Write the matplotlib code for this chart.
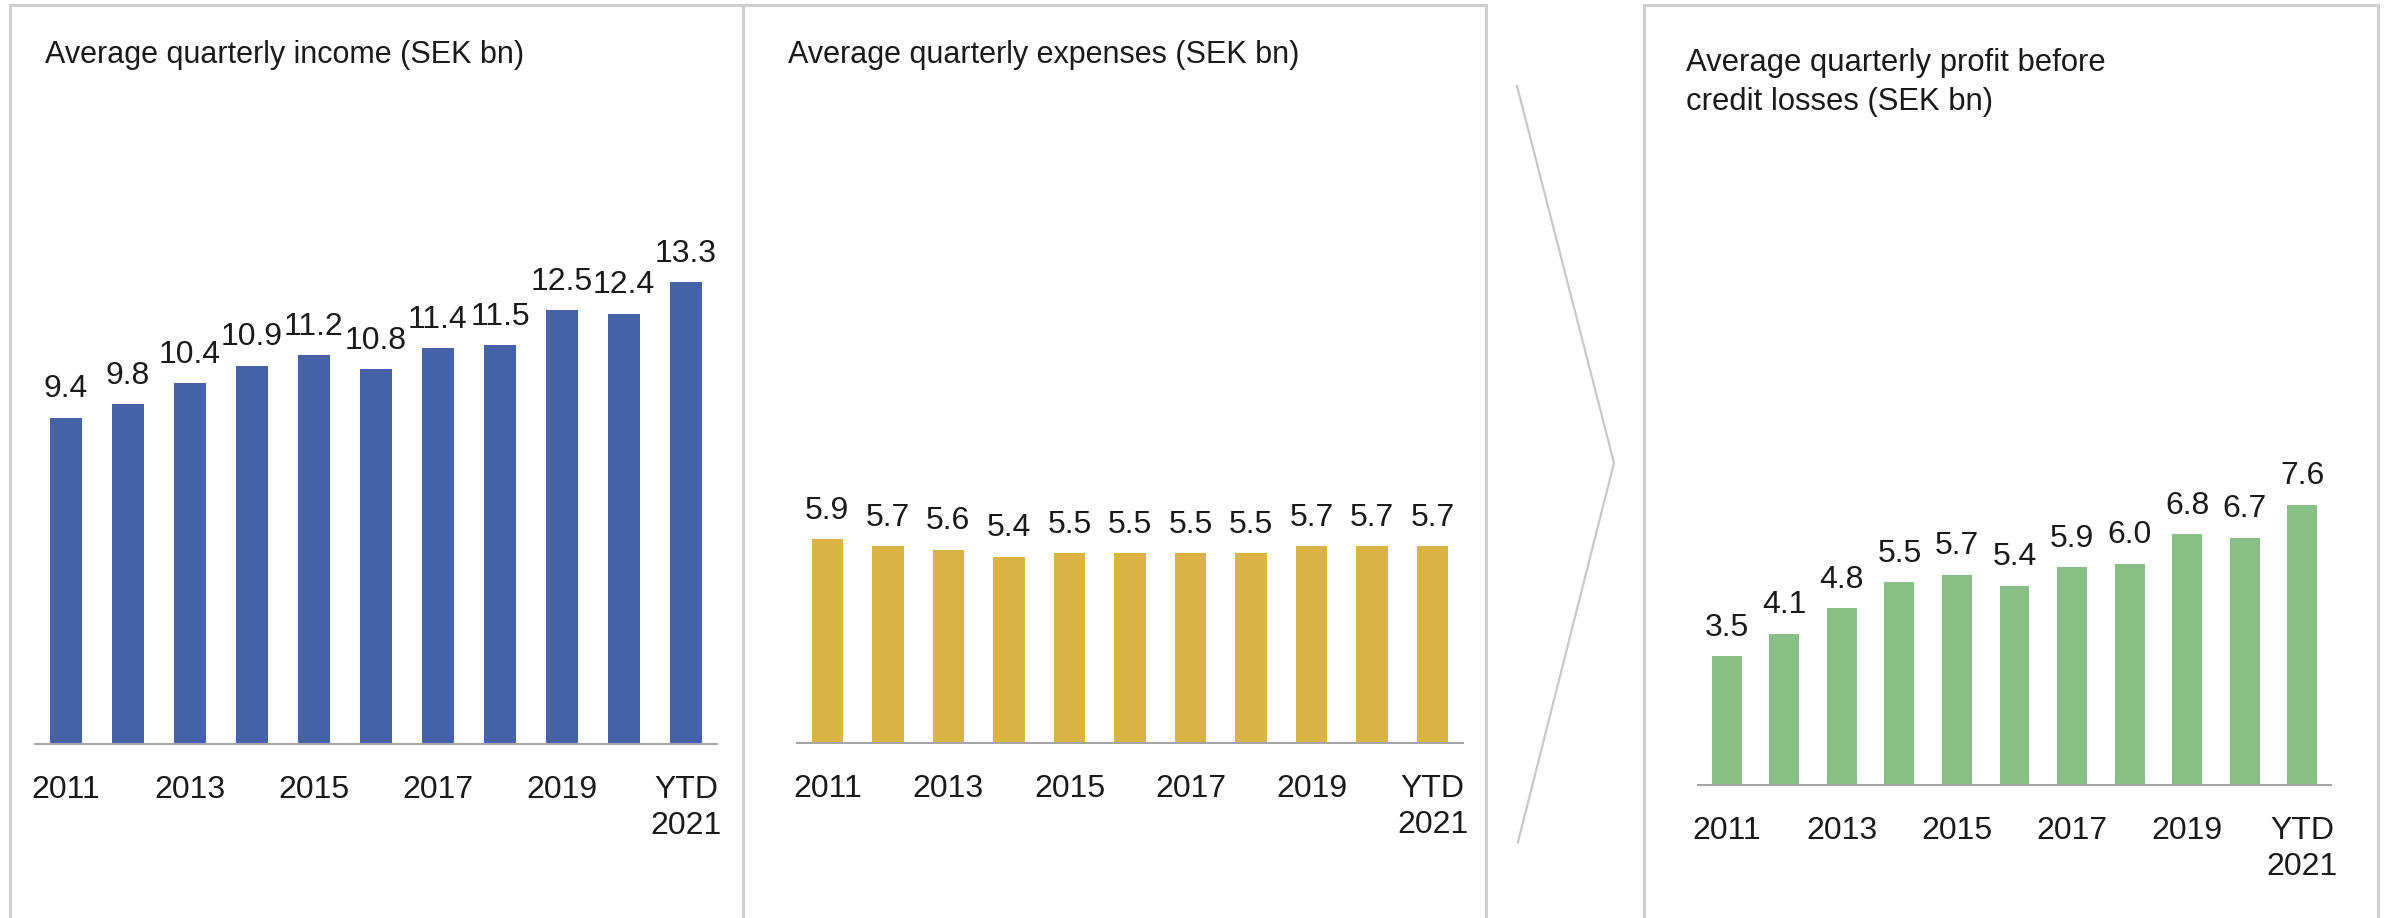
import matplotlib
matplotlib.use("Agg")
from matplotlib import pyplot as plt
from matplotlib import font_manager
from matplotlib.lines import Line2D

# data
years = ["2011", "2012", "2013", "2014", "2015", "2016", "2017", "2018", "2019", "2020", "YTD\n2021"]
income = [9.4, 9.8, 10.4, 10.9, 11.2, 10.8, 11.4, 11.5, 12.5, 12.4, 13.3]
expenses = [5.9, 5.7, 5.6, 5.4, 5.5, 5.5, 5.5, 5.5, 5.7, 5.7, 5.7]
profit = [3.5, 4.1, 4.8, 5.5, 5.7, 5.4, 5.9, 6.0, 6.8, 6.7, 7.6]

titles = ["Average quarterly income (SEK bn)",
          "Average quarterly expenses (SEK bn)",
          "Average quarterly profit before\ncredit losses (SEK bn)"]
colors = ["#4562A8", "#DBB244", "#88C083"]

W, H = 2392, 918
TEXT = "#1A1A1A"
BORDER = "#CFCFCF"

names = {f.name for f in font_manager.fontManager.ttflist}
if "Liberation Sans Narrow" in names:
    title_font, title_size = "Liberation Sans Narrow", 27
else:
    title_font, title_size = "Liberation Sans", 22
plt.rcParams["font.family"] = ["Liberation Sans", "DejaVu Sans"]


def fx(x):
    return x / W


def fy(y):
    return 1 - y / H


def draw_panel(fig, vals, color, left, right, base, px_per_unit, top=150):
    """One bar panel, placed by pixel coords of the reference"""
    ax = fig.add_axes([fx(left), fy(base), (right - left) / W, (base - top) / H])
    x = range(len(vals))
    bars = ax.bar(x, vals, width=0.52, color=color)
    ax.bar_label(bars, labels=[f"{v:.1f}" for v in vals], padding=9.6, fontsize=23, color=TEXT)
    ax.set_xlim(-0.5, len(vals) - 0.5)
    ax.set_ylim(0, (base - top) / px_per_unit)
    ax.set_xticks(range(0, len(vals), 2))
    ax.set_xticklabels([years[i] for i in range(0, len(vals), 2)])
    ax.tick_params(axis="x", length=0, pad=22, labelsize=23, labelcolor=TEXT)
    for t in ax.get_xticklabels():
        t.set_linespacing(1.3)
    ax.set_yticks([])
    for s in ["left", "right", "top"]:
        ax.spines[s].set_visible(False)
    ax.spines["bottom"].set_color("#A6A6A6")
    ax.spines["bottom"].set_linewidth(1.5)
    ax.patch.set_alpha(0)
    return ax


def main():
    fig = plt.figure(figsize=(W / 100, H / 100), dpi=100)

    # panel frames (open at the bottom)
    frame_lines = [
        ([10, 10], [5, H]), ([10, 1486], [5, 5]), ([743, 743], [5, H]), ([1486, 1486], [5, H]),
        ([1644, 1644], [5, H]), ([1644, 2378], [5, 5]), ([2378, 2378], [5, H]),
    ]
    for xs, ys in frame_lines:
        fig.add_artist(Line2D([fx(v) for v in xs], [fy(v) for v in ys], color=BORDER, lw=2.2))

    # chevron between expenses and profit
    fig.add_artist(Line2D([fx(1517), fx(1614), fx(1518)], [fy(86), fy(463), fy(842)],
                          color="#C8C8C8", lw=1.6))

    draw_panel(fig, income, colors[0], 35, 717, 744, 34.7)
    draw_panel(fig, expenses, colors[1], 797, 1463, 743, 34.5)
    draw_panel(fig, profit, colors[2], 1698, 2331, 785, 36.9)

    fig.text(fx(45), fy(63), titles[0], fontsize=title_size, family=title_font, color=TEXT, va="baseline")
    fig.text(fx(788), fy(63), titles[1], fontsize=title_size, family=title_font, color=TEXT, va="baseline")
    fig.text(fx(1686), fy(48), titles[2], fontsize=22.3, color=TEXT, va="top", linespacing=1.4)

    fig.savefig("out.png", dpi=100)


if __name__ == '__main__':
    main()
